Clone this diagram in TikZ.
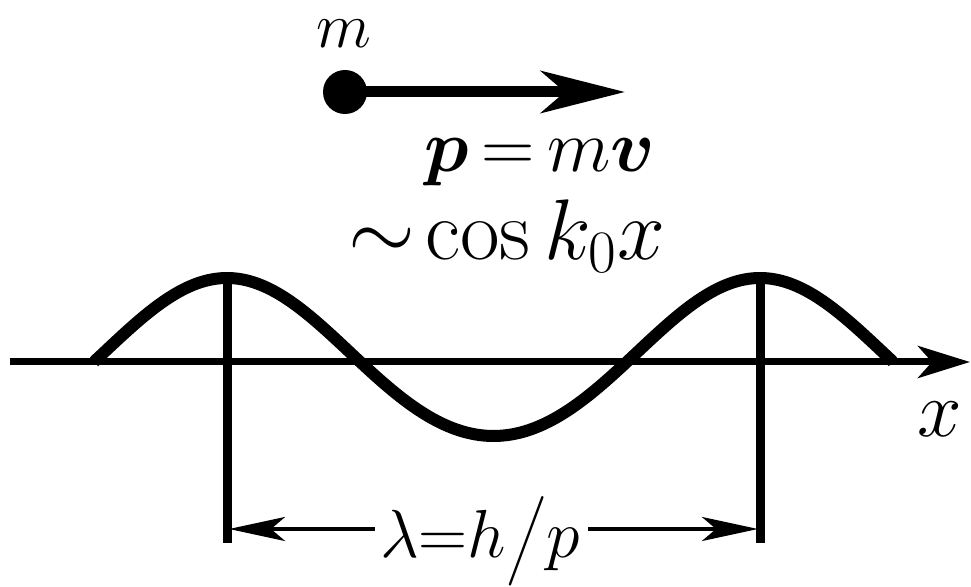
\RequirePackage{fix-cm}
\documentclass[tikz,border=0pt]{standalone}
\usepackage{amsmath}
\usetikzlibrary{arrows.meta}

\tikzset{
  wave/.style={line width=6pt, line join=round},
  axisline/.style={line width=3.5pt, -{Stealth[length=26pt, width=16pt, inset=7pt]}},
  dropline/.style={line width=4.5pt},
  momentum/.style={line width=5.5pt, -{Stealth[length=42pt, width=21pt, inset=12pt]}},
  dimline/.style={line width=2pt, -{Stealth[length=28pt, width=12pt, inset=7pt]}},
  textlabel/.style={anchor=base, inner sep=0pt}
}

\begin{document}
\begin{tikzpicture}[x=0.5pt, y=-0.5pt]
  \useasboundingbox (0,0) rectangle (971,587);

  % particle with its momentum
  \node (mass) [circle, fill, minimum size=22pt, inner sep=0pt] at (345,92) {};
  \node (mlabel) [textlabel, font=\fontsize{32}{36}\selectfont] at (344,48) {$m$};
  \coordinate (tip) at (625,92);
  \draw [momentum] (mass.center) -- (tip);
  \node (pmv) [textlabel, font=\fontsize{37}{40}\selectfont] at (540,172)
    {$\boldsymbol{p}\,{=}\,m\boldsymbol{v}$};

  % the wave
  \node (wavelabel) [textlabel, font=\fontsize{43}{46}\selectfont] at (507,260)
    {$\sim\!\cos k_0 x$};
  \coordinate (axisL) at (10,362);
  \coordinate (axisR) at (970,362);
  \draw [axisline] (axisL) -- (axisR);
  \node (xlabel) [textlabel, font=\fontsize{40}{44}\selectfont] at (940,437) {$x$};
  \draw [wave] plot [domain=94:893, samples=140, smooth]
    (\x, {362-(79+5*cos(0.6754*(\x-227)))*cos(0.6754*(\x-227))});

  % wavelength
  \coordinate (peakL) at (227,278);
  \coordinate (peakR) at (760,278);
  \coordinate (footL) at (227,543);
  \coordinate (footR) at (760,543);
  \draw [dropline] (peakL) -- (footL);
  \draw [dropline] (peakR) -- (footR);
  \coordinate (dimL) at (229,529);
  \coordinate (dimR) at (758,529);
  \node (lambda) [textlabel, font=\fontsize{34}{38}\selectfont] at (480,558)
    {$\lambda{=}h\big/p$};
  \draw [dimline] (lambda.west |- dimL) ++(-5,0) -- (dimL);
  \draw [dimline] (lambda.east |- dimR) ++(8,0) -- (dimR);
\end{tikzpicture}
\end{document}
